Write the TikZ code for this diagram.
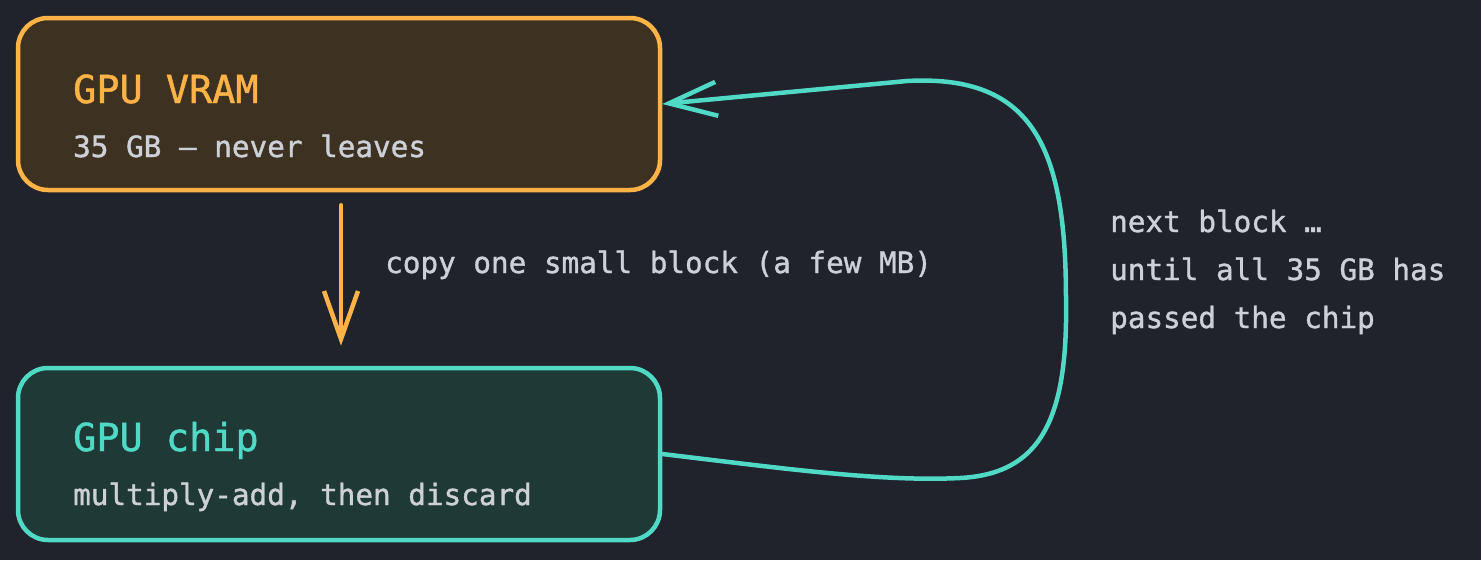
\documentclass[tikz,border=0pt]{standalone}
\usepackage{fontspec}
\newfontfamily\monof{DejaVu Sans Mono}[BoldFont={DejaVu Sans Mono}, BoldFeatures={FakeBold=1.2}]
\usetikzlibrary{arrows.meta}
\definecolor{bgc}{RGB}{32,34,44}
\definecolor{orng}{RGB}{255,178,69}
\definecolor{tealc}{RGB}{80,217,196}
\definecolor{ofill}{RGB}{61,50,34}
\definecolor{tfill}{RGB}{31,58,54}
\definecolor{txtc}{RGB}{205,208,214}
\tikzset{
  boxbase/.style={rounded corners=30pt, line width=4.5pt, minimum width=642pt, minimum height=172pt, inner sep=0pt},
  vrambox/.style={boxbase, draw=orng, fill=ofill},
  chipbox/.style={boxbase, draw=tealc, fill=tfill},
  titletxt/.style={anchor=base west, inner sep=0pt, font=\monof\bfseries\fontsize{38.5}{46}\selectfont},
  bodytxt/.style={anchor=base west, inner sep=0pt, text=txtc, font=\monof\bfseries\fontsize{29.3}{48}\selectfont},
  flow/.style={line width=4.5pt, line cap=round, -{Straight Barb[length=48pt, width=34pt, line width=4.5pt]}}
}
\begin{document}
\begin{tikzpicture}[x=1pt, y=-1pt]
\useasboundingbox[fill=bgc] (0,0) rectangle (1481,560);
\node[vrambox] (vram) at (339,104) {};
\node[chipbox] (chip) at (339,454) {};
\node[titletxt, text=orng] (vramtitle) at (73,103) {GPU VRAM};
\node[bodytxt] (vramsub) at (73,157) {35 GB — never leaves};
\node[titletxt, text=tealc] (chiptitle) at (73,451) {GPU chip};
\node[bodytxt] (chipsub) at (73,505) {multiply-add, then discard};
\node[bodytxt] (copylbl) at (385,273) {copy one small block (a few MB)};
\node[bodytxt] (nl1) at (1110,232) {next block …};
\node[bodytxt] (nl2) at (1110,280) {until all 35 GB has};
\node[bodytxt] (nl3) at (1110,328) {passed the chip};
\draw[flow, orng, shorten <=13pt, shorten >=20pt] (vram.south -| 341,0) -- (chip.north -| 341,0);
\coordinate (botarc) at (960,478);
\coordinate (sidearc) at (1066,300);
\coordinate (toparc) at (907,81);
\draw[flow, tealc] (chip.east) .. controls (780,468) and (880,482) .. (botarc)
  .. controls (1040,474) and (1068,420) .. (sidearc)
  .. controls (1066,150) and (1035,74) .. (toparc) -- (vram.east);
\end{tikzpicture}
\end{document}
